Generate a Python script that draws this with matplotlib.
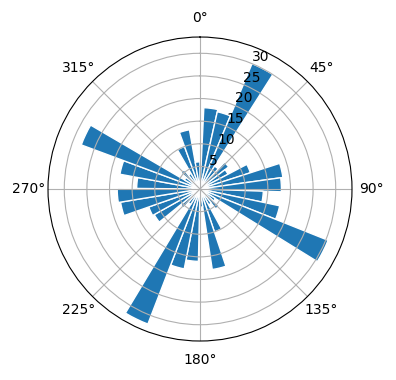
import numpy as np
import matplotlib
matplotlib.use("Agg")
import matplotlib.pyplot as plt

# bin centres (degrees, clockwise from north) and counts
bin_start = 7.66
bin_step = 9.92
counts = [18, 17.5, 30, 6, 8, 7, 11.7, 18.5, 18,
          14, 18, 30.5, 4, 5.6, 4, 10, 18, 4,
          16, 18, 32, 4, 5.5, 11.6, 12, 17.8, 18.3,
          14, 18, 28, 4, 5.5, 4, 10, 13.3, 6]

centres = np.deg2rad(bin_start + bin_step * np.arange(len(counts)))
width = np.deg2rad(bin_step)

fig = plt.figure(figsize=(3.96, 3.80), dpi=100)
ax = fig.add_axes([0.1212, 0.1026, 0.7677, 0.8], projection='polar')
ax.set_theta_zero_location('N')
ax.set_theta_direction(-1)
ax.bar(centres, counts, width=width, color='#1f77b4', edgecolor='white', linewidth=1)
ax.set_rticks([5, 10, 15, 20, 25, 30])
ax.set_rlim(0, 33.6)

fig.savefig('out.png', dpi=100)
